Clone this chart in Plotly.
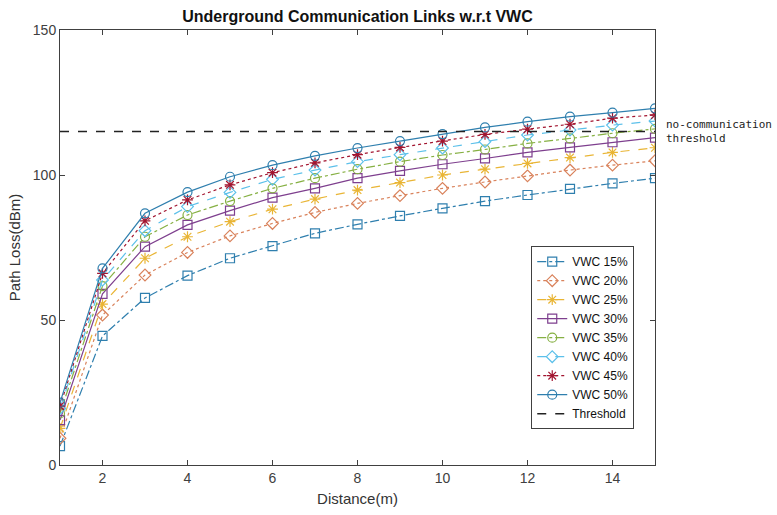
import plotly.graph_objects as go

distance = list(range(1, 16))
vwc_15 = [6.5, 44.5, 57.6, 65.3, 71.3, 75.5, 79.9, 83.0, 85.9, 88.5, 91.0, 93.1, 95.2, 97.1, 98.9]
vwc_20 = [9.2, 51.7, 65.5, 73.3, 79.0, 83.3, 87.1, 90.2, 92.9, 95.4, 97.6, 99.7, 101.7, 103.4, 104.9]
vwc_25 = [12.6, 55.5, 71.3, 78.7, 83.9, 88.2, 91.7, 94.8, 97.4, 100.0, 102.0, 104.0, 106.0, 107.8, 109.4]
vwc_30 = [15.5, 59.0, 75.3, 82.8, 87.7, 92.2, 95.4, 98.9, 101.4, 103.7, 105.7, 107.8, 109.5, 111.3, 112.9]
vwc_35 = [17.8, 61.7, 78.7, 86.2, 91.0, 95.4, 98.9, 102.0, 104.6, 106.9, 108.8, 110.9, 112.6, 114.4, 115.9]
vwc_40 = [19.5, 63.8, 80.8, 89.1, 94.0, 98.5, 101.7, 104.6, 107.0, 109.3, 111.5, 113.8, 115.5, 117.2, 118.6]
vwc_45 = [20.3, 66.1, 84.2, 91.4, 96.6, 100.8, 104.2, 107.0, 109.5, 111.7, 114.0, 115.8, 117.5, 119.6, 120.7]
vwc_50 = [21.5, 67.8, 86.8, 94.1, 99.4, 103.4, 106.6, 109.3, 111.7, 114.1, 116.4, 118.4, 120.1, 121.5, 123.0]
threshold = 115

series_names = ["VWC 15%", "VWC 20%", "VWC 25%", "VWC 30%", "VWC 35%", "VWC 40%", "VWC 45%", "VWC 50%"]
series_values = [vwc_15, vwc_20, vwc_25, vwc_30, vwc_35, vwc_40, vwc_45, vwc_50]
colors = ["#2f7fae", "#d9825b", "#e9b535", "#7e3f8e", "#86b043", "#5cc0ea", "#a2142f", "#2f7fae"]
dashes = ["dashdot", "dot", "dash", "solid", "dashdot", "dash", "dot", "solid"]
symbols = ["square-open", "diamond-open", "asterisk-open", "square-open", "circle-open",
           "diamond-open", "asterisk-open", "circle-open"]

fig = go.Figure()
for name, vals, c, d, s in zip(series_names, series_values, colors, dashes, symbols):
    fig.add_trace(go.Scatter(
        x=distance, y=vals, name=name, mode="lines+markers",
        line=dict(color=c, width=1.2, dash=d),
        marker=dict(symbol=s, size=9, color=c, line=dict(color=c, width=1.2)),
    ))

fig.add_trace(go.Scatter(
    x=[distance[0], distance[-1]], y=[threshold, threshold], name="Threshold",
    mode="lines", line=dict(color="#222222", width=1.4, dash="dash"),
))

fig.add_annotation(
    x=1.015, y=threshold, xref="paper", yref="y", xanchor="left", yanchor="middle",
    text="no-communication<br>threshold", showarrow=False, align="left",
    font=dict(family="DejaVu Sans Mono", size=11, color="#222222"),
)

axis_common = dict(
    showgrid=False, zeroline=False, showline=True, linecolor="#404040", linewidth=1,
    mirror="ticks", ticks="inside", ticklen=5, tickcolor="#404040",
    tickfont=dict(family="Liberation Sans", size=14, color="#404040"),
)

fig.update_layout(
    width=777, height=515,
    margin=dict(l=60, r=122, t=30, b=50),
    paper_bgcolor="white", plot_bgcolor="white",
    title=dict(text="<b>Underground Communication Links w.r.t VWC</b>", x=(60 + 655) / 2 / 777,
               xanchor="center", y=0.968, yanchor="middle",
               font=dict(family="Liberation Sans", size=16, color="#111111")),
    xaxis=dict(range=[1, 15], tickvals=[2, 4, 6, 8, 10, 12, 14],
               title=dict(text="Distance(m)", font=dict(family="Liberation Sans", size=15, color="#333333"), standoff=8),
               **axis_common),
    yaxis=dict(range=[0, 150], tickvals=[0, 50, 100, 150],
               title=dict(text="Path Loss(dBm)", font=dict(family="Liberation Sans", size=15, color="#333333"), standoff=8),
               **axis_common),
    legend=dict(x=0.792, y=0.503, xanchor="left", yanchor="top",
                bordercolor="#404040", borderwidth=1, bgcolor="white",
                font=dict(family="Liberation Sans", size=12, color="#111111"),
                tracegroupgap=0, itemwidth=30),
    showlegend=True,
)

fig.write_html("out.html")
